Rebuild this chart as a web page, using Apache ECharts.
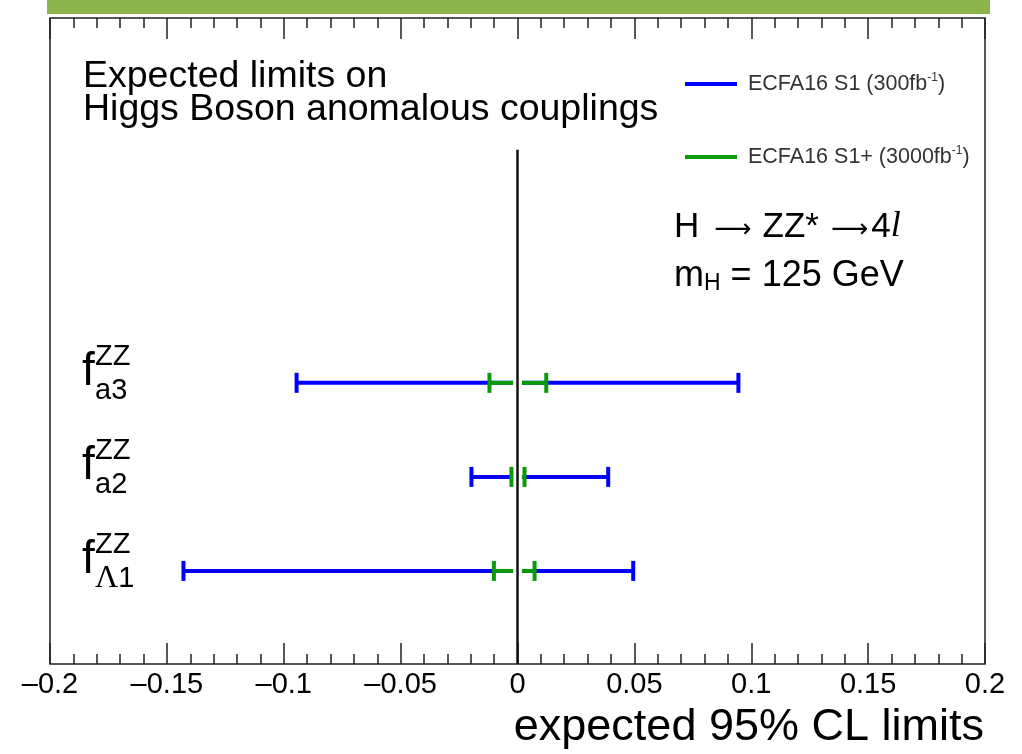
<!DOCTYPE html>
<html>
<head>
<meta charset="utf-8">
<script src="https://cdn.jsdelivr.net/npm/echarts@6/dist/echarts.min.js"></script>
<style>
  html, body { margin: 0; padding: 0; background: #fff; }
  #chart { width: 1022px; height: 754px; }
</style>
</head>
<body>
<div id="chart"></div>
<script>
// couplings, top to bottom, and their row position on the (hidden) y axis
const couplings = ['a3', 'a2', 'Λ1'];
const rowPos = [3, 2, 1];

// ECFA16 S1 (300 fb-1) expected 95% CL limits
const s1Lo = [-0.0945, -0.0197, -0.1429];
const s1Hi = [0.0945, 0.0388, 0.0495];
// ECFA16 S1+ (3000 fb-1)
const s1pLo = [-0.0120, -0.0026, -0.0101];
const s1pHi = [0.0123, 0.0030, 0.0073];

// intervals are drawn with a small hole around zero
const zeroGap = 0.0019;
// vertical line at zero
const zeroLine = [[0, 0.01], [0, 5.48]];

const FONT = 'Liberation Sans';
const chart = echarts.init(document.getElementById('chart'));

const fmtTick = v => {
  const s = String(+(+v).toFixed(2));
  return s.replace('-', '\u2013');
};

function renderBar(params, api) {
  const row = api.value(2);
  const lo = api.coord([api.value(0), row]);
  const hi = api.coord([api.value(1), row]);
  const gl = api.coord([-zeroGap, row]);
  const gr = api.coord([zeroGap, row]);
  const st = { stroke: api.visual('color'), lineWidth: 4, lineCap: 'butt' };
  const h = 10;
  return {
    type: 'group',
    children: [
      { type: 'line', shape: { x1: lo[0], y1: lo[1], x2: gl[0], y2: gl[1] }, style: st },
      { type: 'line', shape: { x1: gr[0], y1: gr[1], x2: hi[0], y2: hi[1] }, style: st },
      { type: 'line', shape: { x1: lo[0], y1: lo[1] - h, x2: lo[0], y2: lo[1] + h }, style: st },
      { type: 'line', shape: { x1: hi[0], y1: hi[1] - h, x2: hi[0], y2: hi[1] + h }, style: st }
    ]
  };
}

function renderLabel(params, api) {
  const p = api.coord([api.value(0), api.value(1)]);
  const sub = couplings[params.dataIndex];
  const x = p[0] + 32;
  const subText = sub.charAt(0) === 'Λ' ? '{g|Λ}' + sub.slice(1) : sub;
  return {
    type: 'group',
    children: [
      { type: 'text', style: { text: 'f', x: x, y: p[1] - 11, fontSize: 46, fontFamily: FONT, fill: '#000', verticalAlign: 'middle' } },
      { type: 'text', style: { text: 'ZZ', x: x + 13, y: p[1] - 26, fontSize: 29, fontFamily: FONT, fill: '#000', verticalAlign: 'middle' } },
      { type: 'text', style: {
          text: subText, x: x + 13, y: p[1] + 8, fontSize: 29, fontFamily: FONT, fill: '#000', verticalAlign: 'middle',
          rich: { g: { fontSize: 32, fontFamily: 'Liberation Serif', fill: '#000' } }
      } }
    ]
  };
}

const tickStyle = { color: '#222', width: 1.5 };
const xCommon = {
  type: 'value', min: -0.2, max: 0.2, interval: 0.05,
  axisLine: { show: false },
  splitLine: { show: false },
  axisTick: { inside: true, length: 21, lineStyle: tickStyle },
  minorTick: { show: true, splitNumber: 5, length: 10, lineStyle: tickStyle }
};

const arrow = { fontSize: 26, fontFamily: 'DejaVu Sans', fill: '#000' };

chart.setOption({
  animation: false,
  grid: { left: 50, right: 37, top: 18, bottom: 90, show: true, borderColor: '#222', borderWidth: 1.5 },
  xAxis: [
    Object.assign({}, xCommon, {
      position: 'bottom',
      axisLabel: { margin: 6, fontSize: 29, fontFamily: FONT, color: '#000', formatter: fmtTick, showMinLabel: true, showMaxLabel: true }
    }),
    Object.assign({}, xCommon, { position: 'top', axisLabel: { show: false } })
  ],
  yAxis: { type: 'value', min: 0.01, max: 6.88, show: false },
  legend: {
    data: ['ECFA16 S1 (300fb-1)', 'ECFA16 S1+ (3000fb-1)'],
    orient: 'vertical', left: 685, top: 71, padding: 0,
    icon: 'rect', itemWidth: 52, itemHeight: 4, itemGap: 47,
    selectedMode: false,
    formatter: name => name.replace('fb-1', 'fb{sup|-1}'),
    textStyle: {
      fontSize: 21.5, fontFamily: FONT, color: '#333', lineHeight: 26, padding: [0, 0, 0, 6],
      rich: { sup: { fontSize: 12, fontFamily: FONT, color: '#333', padding: [0, 0, 13, 0] } }
    }
  },
  graphic: [
    { type: 'rect', shape: { x: 47, y: 0, width: 943, height: 14 }, style: { fill: '#8db44b' } },
    { type: 'text', x: 83, y: 77, style: { text: 'Expected limits on', fontSize: 37.5, fontFamily: FONT, fill: '#000', verticalAlign: 'middle' } },
    { type: 'text', x: 83, y: 110, style: { text: 'Higgs Boson anomalous couplings', fontSize: 37.5, fontFamily: FONT, fill: '#000', verticalAlign: 'middle' } },
    { type: 'text', x: 674, y: 227, style: {
        text: 'H{a1|\u27F6}ZZ*{a2|\u27F6}4{it|l}', fontSize: 35, fontFamily: FONT, fill: '#000', verticalAlign: 'middle',
        rich: {
          a1: Object.assign({ padding: [6, 11, 0, 15] }, arrow),
          a2: Object.assign({ padding: [6, 3, 0, 12] }, arrow),
          it: { fontSize: 36, fontFamily: 'Liberation Serif', fontStyle: 'italic', fill: '#000' }
        }
    } },
    { type: 'text', x: 674, y: 276, style: {
        text: 'm{sub|H} = 125 GeV', fontSize: 36, fontFamily: FONT, fill: '#000', verticalAlign: 'middle',
        rich: { sub: { fontSize: 23, fontFamily: FONT, fill: '#000', padding: [16, 0, 0, 0] } }
    } },
    { type: 'text', x: 984, y: 728, style: { text: 'expected 95% CL limits', fontSize: 45, fontFamily: FONT, fill: '#000', align: 'right', verticalAlign: 'middle' } }
  ],
  series: [
    {
      name: 'zero', type: 'line', data: zeroLine, symbol: 'none', silent: true,
      lineStyle: { color: '#111', width: 2.5 }, z: 1
    },
    {
      name: 'ECFA16 S1 (300fb-1)', type: 'custom', renderItem: renderBar,
      itemStyle: { color: '#0000ff' }, encode: { x: [0, 1], y: 2 }, z: 2,
      data: rowPos.map((r, i) => [s1Lo[i], s1Hi[i], r])
    },
    {
      name: 'ECFA16 S1+ (3000fb-1)', type: 'custom', renderItem: renderBar,
      itemStyle: { color: '#0a9a0a' }, encode: { x: [0, 1], y: 2 }, z: 3,
      data: rowPos.map((r, i) => [s1pLo[i], s1pHi[i], r])
    },
    {
      name: 'labels', type: 'custom', renderItem: renderLabel, silent: true,
      encode: { x: 0, y: 1 },
      data: rowPos.map(r => [-0.2, r])
    }
  ]
});
</script>
</body>
</html>
